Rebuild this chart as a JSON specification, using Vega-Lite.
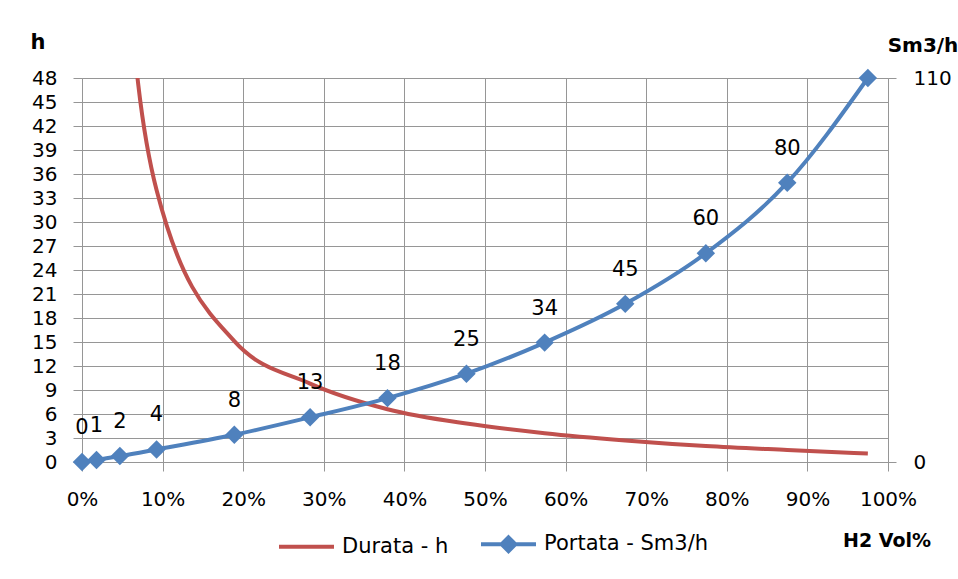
{
  "$schema": "https://vega.github.io/schema/vega-lite/v6.json",
  "width": 806,
  "height": 384,
  "autosize": {"type": "none"},
  "padding": {"left": 82, "top": 78, "right": 70, "bottom": 117},
  "background": "white",
  "config": {"view": {"stroke": null}, "font": "DejaVu Sans"},
  "datasets": {
    "durata": [
      {"h2": 0.018, "durata": 190},
      {"h2": 0.047, "durata": 78},
      {"h2": 0.0925, "durata": 34},
      {"h2": 0.189, "durata": 15.1},
      {"h2": 0.283, "durata": 9.8},
      {"h2": 0.379, "durata": 6.6},
      {"h2": 0.477, "durata": 4.8},
      {"h2": 0.574, "durata": 3.6},
      {"h2": 0.674, "durata": 2.7},
      {"h2": 0.774, "durata": 2.0},
      {"h2": 0.875, "durata": 1.5},
      {"h2": 0.975, "durata": 1.05}
    ],
    "portata": [
      {"h2": 0.0, "portata": 0},
      {"h2": 0.018, "portata": 0.6},
      {"h2": 0.047, "portata": 1.7},
      {"h2": 0.0925, "portata": 3.6},
      {"h2": 0.189, "portata": 7.8},
      {"h2": 0.283, "portata": 12.8},
      {"h2": 0.379, "portata": 18.3},
      {"h2": 0.477, "portata": 25.3},
      {"h2": 0.574, "portata": 34.2},
      {"h2": 0.674, "portata": 45.3},
      {"h2": 0.774, "portata": 59.8},
      {"h2": 0.875, "portata": 80},
      {"h2": 0.975, "portata": 110}
    ]
  },
  "encoding": {
    "x": {
      "field": "h2",
      "type": "quantitative",
      "scale": {"domain": [0, 1], "nice": false, "zero": false},
      "axis": {
        "values": [0, 0.1, 0.2, 0.3, 0.4, 0.5, 0.6, 0.7, 0.8, 0.9, 1],
        "format": ".0%",
        "grid": true,
        "gridColor": "#969696",
        "domainColor": "#969696",
        "tickColor": "#969696",
        "tickSize": 9,
        "labelPadding": 18,
        "labelFont": "DejaVu Sans",
        "labelFontSize": 20,
        "labelColor": "#000",
        "labelFlush": false,
        "labelOverlap": false,
        "title": "H2 Vol%",
        "titleFont": "DejaVu Sans",
        "titleFontSize": 19,
        "titleFontWeight": "bold",
        "titleColor": "#000",
        "titleAngle": 0,
        "titleAlign": "center",
        "titleBaseline": "alphabetic",
        "titleX": 804.5,
        "titleY": 84
      }
    }
  },
  "layer": [
    {
      "data": {"name": "durata"},
      "mark": {"type": "line", "strokeWidth": 4, "interpolate": "monotone", "clip": true},
      "encoding": {
        "y": {
          "field": "durata",
          "type": "quantitative",
          "scale": {"domain": [0, 48], "nice": false},
          "axis": {
            "orient": "left",
            "values": [0, 3, 6, 9, 12, 15, 18, 21, 24, 27, 30, 33, 36, 39, 42, 45, 48],
            "grid": true,
            "gridColor": "#969696",
            "domainColor": "#969696",
            "tickColor": "#969696",
            "tickSize": 9,
            "labelPadding": 16,
            "labelFont": "DejaVu Sans",
            "labelFontSize": 20,
            "labelColor": "#000",
            "labelOverlap": false,
            "labelFlush": false,
            "title": "h",
            "titleFont": "DejaVu Sans",
            "titleFontSize": 21,
            "titleFontWeight": "bold",
            "titleColor": "#000",
            "titleAngle": 0,
            "titleAlign": "center",
            "titleBaseline": "alphabetic",
            "titleX": -44.5,
            "titleY": -30
          }
        },
        "color": {
          "datum": "Durata - h",
          "type": "nominal",
          "scale": {"domain": ["Durata - h", "Portata - Sm3/h"], "range": ["#C0504D", "#4F81BD"]},
          "legend": {
            "orient": "none",
            "legendX": 195,
            "legendY": 436.5,
            "direction": "horizontal",
            "title": null,
            "padding": 0,
            "offset": 0,
            "symbolType": "M-1,0H1",
            "symbolSize": 3025,
            "symbolStrokeWidth": 4,
            "labelFont": "DejaVu Sans",
            "labelFontSize": 21,
            "labelColor": "#000",
            "labelOffset": 6,
            "labelLimit": 400,
            "columnPadding": 24,
            "encode": {
              "symbols": {
                "update": {
                  "shape": {"signal": "datum.value === 'Portata - Sm3/h' ? 'M-1,0H1M0,-0.25L0.25,0L0,0.25L-0.25,0Z' : 'M-1,0H1'"},
                  "fill": {"signal": "datum.value === 'Portata - Sm3/h' ? '#4F81BD' : 'transparent'"},
                  "opacity": {"value": 1},
                  "fillOpacity": {"value": 1}
                }
              }
            }
          }
        }
      }
    },
    {
      "data": {"name": "portata"},
      "encoding": {
        "y": {
          "field": "portata",
          "type": "quantitative",
          "scale": {"domain": [0, 110], "nice": false},
          "axis": {
            "orient": "right",
            "values": [0, 110],
            "grid": false,
            "domainColor": "#969696",
            "tickColor": "#969696",
            "tickSize": 8,
            "labelPadding": 17,
            "labelFont": "DejaVu Sans",
            "labelFontSize": 20,
            "labelColor": "#000",
            "labelFlush": false,
            "title": "Sm3/h",
            "titleFont": "DejaVu Sans",
            "titleFontSize": 20,
            "titleFontWeight": "bold",
            "titleColor": "#000",
            "titleAngle": 0,
            "titleAlign": "center",
            "titleBaseline": "alphabetic",
            "titleX": 34.5,
            "titleY": -27
          }
        }
      },
      "layer": [
        {
          "mark": {"type": "line", "strokeWidth": 4, "interpolate": "monotone"},
          "encoding": {"color": {"datum": "Portata - Sm3/h", "type": "nominal"}}
        },
        {
          "mark": {"type": "point", "shape": "diamond", "filled": true, "size": 340, "opacity": 1, "color": "#4F81BD"}
        },
        {
          "transform": [{"filter": "datum.portata < 100"}],
          "mark": {"type": "text", "dy": -28, "baseline": "alphabetic", "align": "center", "font": "DejaVu Sans", "fontSize": 21, "color": "#000"},
          "encoding": {"text": {"field": "portata", "type": "quantitative", "format": ".0f"}}
        }
      ]
    }
  ],
  "resolve": {"scale": {"y": "independent"}}
}
